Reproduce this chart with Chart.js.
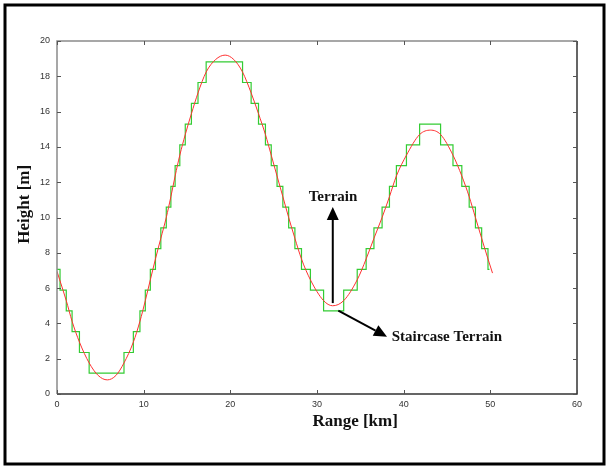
<!DOCTYPE html>
<html>
<head>
<meta charset="utf-8">
<script src="https://cdn.jsdelivr.net/npm/chart.js@4"></script>
<style>
html, body { margin: 0; padding: 0; background: #fff; }
</style>
</head>
<body>
<canvas id="myChart" width="608" height="466"></canvas>
<script>
// terrain profile (km, m)
const terrainX = [0, 0.31, 1.07, 1.74, 2.59, 3.71, 4.75, 5.8, 6.8, 7.73, 8.81, 9.57, 10.19, 10.77, 11.36, 11.98, 12.61, 13.14, 13.63, 14.17, 14.8, 15.51, 16.27, 17.21, 18.3, 19.4, 20.4, 21.41, 22.4, 23.25, 24.05, 24.72, 25.39, 26.06, 26.73, 27.45, 28.21, 29.24, 30.76, 31.8, 33.08, 34.64, 35.67, 36.57, 37.51, 38.36, 39.16, 40.32, 41.84, 43.1, 44.26, 45.69, 46.71, 47.56, 48.28, 49.0, 49.73, 50.25];
const terrainY = [6.95, 6.47, 5.29, 4.12, 2.94, 1.76, 1.05, 0.8, 1.05, 1.76, 2.94, 4.12, 5.29, 6.47, 7.65, 8.82, 10.0, 11.18, 12.35, 13.53, 14.7, 15.88, 17.06, 18.24, 18.95, 19.2, 18.95, 18.24, 17.06, 15.88, 14.7, 13.53, 12.35, 11.18, 10.0, 8.82, 7.65, 6.47, 5.29, 5.0, 5.29, 6.47, 7.65, 8.82, 10.0, 11.18, 12.35, 13.53, 14.7, 14.95, 14.7, 13.53, 12.35, 11.18, 10.0, 8.82, 7.65, 6.85];

// staircase: level starts at stairX[i] and holds until the next one
const stairX = [0, 0.35, 1.07, 1.74, 2.59, 3.71, 7.73, 8.81, 9.57, 10.19, 10.77, 11.36, 11.98, 12.61, 13.14, 13.63, 14.17, 14.8, 15.51, 16.27, 17.21, 21.41, 22.4, 23.25, 24.05, 24.72, 25.39, 26.06, 26.73, 27.45, 28.21, 29.24, 30.76, 33.08, 34.64, 35.67, 36.57, 37.51, 38.36, 39.16, 40.32, 41.84, 44.26, 45.69, 46.71, 47.56, 48.28, 49.0, 49.73, 49.9];
const stairY = [7.06, 5.88, 4.71, 3.53, 2.35, 1.18, 2.35, 3.53, 4.71, 5.88, 7.06, 8.24, 9.41, 10.59, 11.76, 12.94, 14.12, 15.29, 16.47, 17.65, 18.82, 17.65, 16.47, 15.29, 14.12, 12.94, 11.76, 10.59, 9.41, 8.24, 7.06, 5.88, 4.71, 5.88, 7.06, 8.24, 9.41, 10.59, 11.76, 12.94, 14.12, 15.29, 14.12, 12.94, 11.76, 10.59, 9.41, 8.24, 7.06, 7.06];

const xTicks = [0, 10, 20, 30, 40, 50, 60];
const yTicks = [0, 2, 4, 6, 8, 10, 12, 14, 16, 18, 20];

const xTitle = 'Range [km]';
const yTitle = 'Height [m]';
const terrainLabel = 'Terrain';
const stairLabel = 'Staircase Terrain';

function arrow(ctx, x1, y1, x2, y2) {
    const ang = Math.atan2(y2 - y1, x2 - x1);
    const len = 13, half = 6;
    const bx = x2 - len * Math.cos(ang), by = y2 - len * Math.sin(ang);
    ctx.beginPath();
    ctx.moveTo(x1, y1);
    ctx.lineTo(bx, by);
    ctx.lineWidth = 2;
    ctx.strokeStyle = '#000';
    ctx.stroke();
    ctx.beginPath();
    ctx.moveTo(x2, y2);
    ctx.lineTo(bx + half * Math.sin(ang), by - half * Math.cos(ang));
    ctx.lineTo(bx - half * Math.sin(ang), by + half * Math.cos(ang));
    ctx.closePath();
    ctx.fillStyle = '#000';
    ctx.fill();
}

const decor = {
    id: 'decor',
    afterDraw(chart) {
        const ctx = chart.ctx;
        const a = chart.chartArea;
        const xs = chart.scales.x, ys = chart.scales.y;
        ctx.save();

        // outer frame
        ctx.strokeStyle = '#000';
        ctx.lineWidth = 3;
        ctx.strokeRect(5, 5, 599, 459);

        // plot box
        ctx.lineWidth = 1.5;
        ctx.strokeStyle = '#8a8a8a';
        ctx.beginPath();
        ctx.moveTo(a.left, a.bottom);
        ctx.lineTo(a.left, a.top);
        ctx.lineTo(a.right, a.top);
        ctx.stroke();
        ctx.strokeStyle = '#333';
        ctx.beginPath();
        ctx.moveTo(a.right, a.top);
        ctx.lineTo(a.right, a.bottom);
        ctx.lineTo(a.left, a.bottom);
        ctx.stroke();

        // inward tick marks on all four sides
        ctx.lineWidth = 1;
        ctx.strokeStyle = '#555';
        ctx.beginPath();
        xTicks.forEach(v => {
            const px = Math.round(xs.getPixelForValue(v)) + 0.5;
            ctx.moveTo(px, a.bottom); ctx.lineTo(px, a.bottom - 4);
            ctx.moveTo(px, a.top); ctx.lineTo(px, a.top + 4);
        });
        yTicks.forEach(v => {
            const py = Math.round(ys.getPixelForValue(v)) + 0.5;
            ctx.moveTo(a.left, py); ctx.lineTo(a.left + 4, py);
            ctx.moveTo(a.right, py); ctx.lineTo(a.right - 4, py);
        });
        ctx.stroke();

        // axis titles
        ctx.fillStyle = '#111';
        ctx.font = 'bold 17px "Liberation Serif"';
        ctx.textAlign = 'center';
        ctx.textBaseline = 'middle';
        ctx.fillText(xTitle, xs.getPixelForValue(34.4), a.bottom + 28);
        ctx.save();
        ctx.translate(a.left - 32, ys.getPixelForValue(10.75));
        ctx.rotate(-Math.PI / 2);
        ctx.fillText(yTitle, 0, 0);
        ctx.restore();

        // annotations
        arrow(ctx, xs.getPixelForValue(31.82), ys.getPixelForValue(5.15),
                   xs.getPixelForValue(31.82), ys.getPixelForValue(10.6));
        arrow(ctx, xs.getPixelForValue(32.46), ys.getPixelForValue(4.72),
                   xs.getPixelForValue(38.08), ys.getPixelForValue(3.25));
        ctx.font = 'bold 15px "Liberation Serif"';
        ctx.fillStyle = '#111';
        ctx.textAlign = 'center';
        ctx.fillText(terrainLabel, xs.getPixelForValue(31.85), ys.getPixelForValue(11.16));
        ctx.textAlign = 'left';
        ctx.fillText(stairLabel, xs.getPixelForValue(38.62), ys.getPixelForValue(3.23));

        ctx.restore();
    }
};

const ctx = document.getElementById('myChart').getContext('2d');
new Chart(ctx, {
    type: 'line',
    data: {
        datasets: [
            {
                label: 'Terrain',
                data: terrainX.map((x, i) => ({ x, y: terrainY[i] })),
                borderColor: '#ff3030',
                borderWidth: 1,
                pointRadius: 0,
                cubicInterpolationMode: 'monotone',
                fill: false,
                order: 0
            },
            {
                label: 'Staircase Terrain',
                data: stairX.map((x, i) => ({ x, y: stairY[i] })),
                borderColor: '#33cc33',
                borderWidth: 1.2,
                pointRadius: 0,
                stepped: true,
                fill: false,
                order: 1
            }
        ]
    },
    options: {
        responsive: false,
        animation: false,
        devicePixelRatio: 1,
        layout: { padding: { top: 41, right: 31, left: 0, bottom: 0 } },
        plugins: {
            legend: { display: false },
            tooltip: { enabled: false }
        },
        scales: {
            x: {
                type: 'linear',
                min: 0, max: 60,
                afterFit: s => { s.height = 72; },
                afterBuildTicks: s => { s.ticks = xTicks.map(v => ({ value: v })); },
                grid: { display: false, drawTicks: false },
                border: { display: false },
                ticks: { font: { family: 'Liberation Sans', size: 9 }, color: '#333', padding: 5, maxRotation: 0 }
            },
            y: {
                type: 'linear',
                min: 0, max: 20,
                afterFit: s => { s.width = 57; },
                afterBuildTicks: s => { s.ticks = yTicks.map(v => ({ value: v })); },
                grid: { display: false, drawTicks: false },
                border: { display: false },
                ticks: { font: { family: 'Liberation Sans', size: 9 }, color: '#333', padding: 7 }
            }
        }
    },
    plugins: [decor]
});
</script>
</body>
</html>
